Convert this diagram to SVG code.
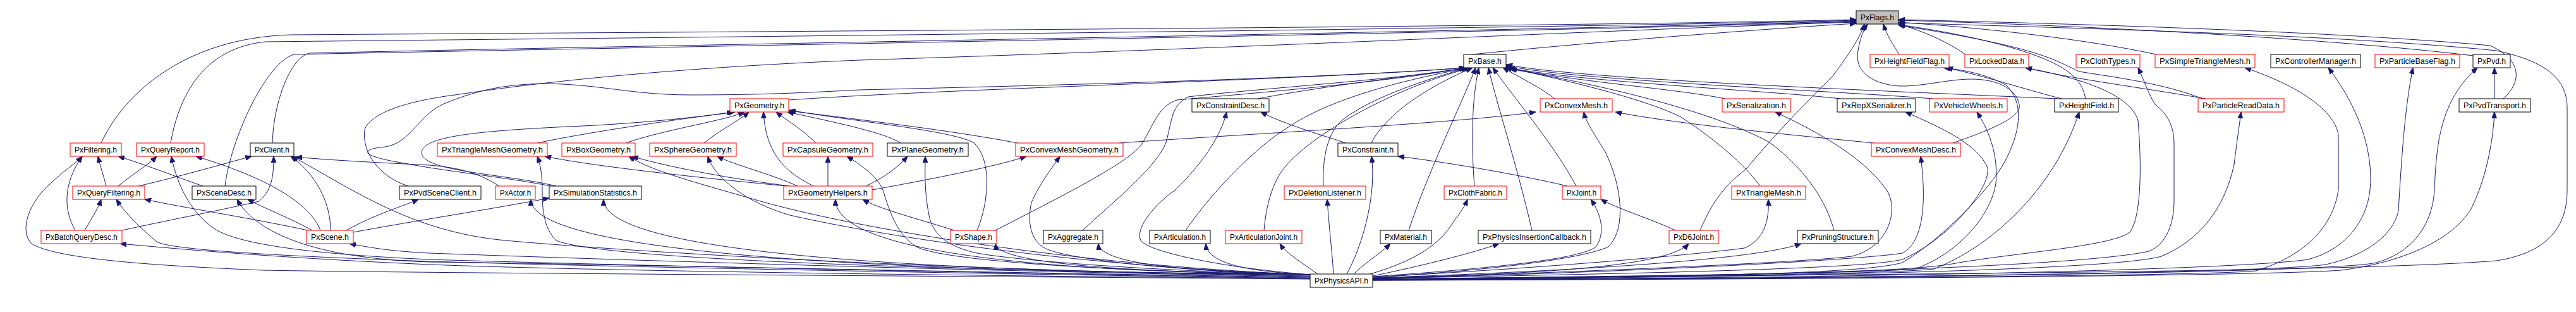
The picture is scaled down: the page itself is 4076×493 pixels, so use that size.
<svg xmlns="http://www.w3.org/2000/svg" width="4076" height="493" viewBox="0 0 4076 493">
<defs>
<style>
.e{fill:none;stroke:#191970;stroke-width:1;marker-end:url(#ah)}
.n rect{fill:#ffffff;stroke:#000000;stroke-width:1}
.r rect{stroke:#ff0000}
.g rect{fill:#bfbfbf}
.n text{font-family:"Liberation Sans",Arial,Helvetica,sans-serif;font-size:13.5px;fill:#000000;text-anchor:middle}
</style>
<marker id="ah" viewBox="0 0 10 8" refX="10" refY="4" markerWidth="10" markerHeight="8" markerUnits="userSpaceOnUse" orient="auto"><path d="M0,0 L10,4 L0,8 z" fill="#191970" stroke="#191970"/></marker>
</defs>
<rect x="0" y="0" width="4076" height="493" fill="#ffffff"/>
<g id="connectors">
<path class="e" d="M160,226 C195,150 290,60 460,55 C1200,50 2500,42 2937,31"/>
<path class="e" d="M270,226 C285,140 330,75 420,66 C1200,58 2500,44 2937,32"/>
<path class="e" d="M431,226 C433,160 460,90 490,84 C1000,72 2500,47 2937,33"/>
<path class="e" d="M356,294 C365,220 420,100 465,86 C1000,75 2500,49 2937,34"/>
<path class="e" d="M646,294 C600,280 572,240 577,205 C585,180 640,160 720,150 C800,138 1000,110 1360,95 C2000,75 2600,45 2937,35"/>
<path class="e" d="M2330,86 C2500,68 2800,45 2937,37"/>
<path class="e" d="M2172,442 C2800,433 3700,432 3950,412 C4040,398 4062,350 4062,300 L4062,170 C4062,120 4020,95 3950,80 C3700,55 3300,45 3004,36"/>
<path class="e" d="M3005,86 C2995,70 2985,55 2980,38"/>
<path class="e" d="M3110,86 C3080,65 3040,48 3004,38"/>
<path class="e" d="M3412,86 C3300,62 3150,45 3004,35"/>
<path class="e" d="M3913,88 C3700,62 3300,40 3004,32"/>
<path class="e" d="M3961,156 C3990,130 3992,95 3940,72 C3700,50 3300,38 3004,31"/>
<path class="e" d="M3300,156 C3295,130 3280,115 3250,100 C3200,75 3100,52 3004,39"/>
<path class="e" d="M3485,156 C3420,130 3330,120 3290,113 C3250,95 3230,75 3004,40"/>
<path class="e" d="M3090,226 C3150,205 3200,185 3195,165 C3190,140 3160,125 3119,125 C3080,125 3030,140 2995,135 C2950,128 2935,105 2940,80 C2943,60 2950,45 2955,38"/>
<path class="e" d="M2690,364 C2705,330 2720,300 2763,267 C2810,210 2870,150 2900,120 C2930,80 2945,55 2950,38"/>
<path class="e" d="M1248,158 C1500,140 2100,125 2318,107"/>
<path class="e" d="M1990,156 C2100,135 2250,118 2322,107"/>
<path class="e" d="M1575,364 C1680,310 1780,260 1805,230 C1825,200 1830,170 1862,158 C1950,150 2200,130 2319,107"/>
<path class="e" d="M1713,364 C1760,320 1830,265 1845,225 C1855,190 1852,168 1880,153 C1990,140 2220,125 2320,107"/>
<path class="e" d="M1876,364 C1920,300 1990,230 2040,200 C2100,160 2200,130 2325,107"/>
<path class="e" d="M2000,364 C2003,330 2010,300 2025,275 C2060,220 2200,140 2328,107"/>
<path class="e" d="M2094,294 C2092,250 2100,205 2130,185 C2180,150 2260,125 2322,107"/>
<path class="e" d="M2170,226 C2185,195 2230,150 2330,107"/>
<path class="e" d="M2229,364 C2260,270 2310,170 2335,107"/>
<path class="e" d="M2333,294 C2328,230 2328,160 2340,107"/>
<path class="e" d="M2424,364 C2400,260 2370,170 2355,107"/>
<path class="e" d="M2494,294 C2460,230 2400,160 2362,107"/>
<path class="e" d="M2460,156 C2440,140 2410,125 2378,107"/>
<path class="e" d="M2730,156 C2650,140 2500,130 2382,107"/>
<path class="e" d="M2912,156 C2800,143 2500,130 2381,106"/>
<path class="e" d="M3058,156 C2900,143 2500,128 2383,104"/>
<path class="e" d="M3255,156 C3000,144 2500,126 2383,102"/>
<path class="e" d="M2785,294 C2760,260 2720,225 2660,185 C2600,155 2470,125 2386,107"/>
<path class="e" d="M2902,364 C2890,320 2860,270 2800,225 C2700,170 2500,128 2390,109"/>
<path class="e" d="M872,294 C800,280 700,270 640,258 C560,245 575,235 610,232 C650,225 660,185 700,165 C760,140 800,134 860,132 C950,133 1000,150 1092,150 C1180,150 1250,148 1360,142 C1800,132 2150,120 2318,107"/>
<path class="e" d="M850,226 C950,205 1100,185 1163,177"/>
<path class="e" d="M990,226 C1050,205 1150,190 1178,177"/>
<path class="e" d="M1114,226 C1140,205 1170,190 1185,177"/>
<path class="e" d="M1287,294 C1250,275 1212,250 1208,177"/>
<path class="e" d="M1291,226 C1270,205 1245,190 1228,177"/>
<path class="e" d="M1425,226 C1400,210 1330,195 1246,177"/>
<path class="e" d="M1610,226 C1500,205 1350,188 1248,175"/>
<path class="e" d="M1546,364 C1565,320 1570,250 1540,225 C1500,205 1350,192 1249,174"/>
<path class="e" d="M880,294 C800,275 680,272 668,245 C658,215 760,207 900,200 C1000,196 1100,186 1160,177"/>
<path class="e" d="M1245,294 C1150,285 950,265 862,247"/>
<path class="e" d="M1250,294 C1150,282 1050,262 1000,247"/>
<path class="e" d="M1262,294 C1220,275 1160,260 1135,247"/>
<path class="e" d="M1310,294 L1310,247"/>
<path class="e" d="M1370,294 C1400,280 1420,265 1436,247"/>
<path class="e" d="M1380,300 C1480,282 1580,262 1624,247"/>
<path class="e" d="M119,364 C100,330 100,290 130,247"/>
<path class="e" d="M134,364 C145,345 155,330 160,315"/>
<path class="e" d="M193,364 C280,345 360,330 410,318 C430,300 433,280 433,247"/>
<path class="e" d="M168,294 C163,275 158,260 155,247"/>
<path class="e" d="M187,294 C210,275 235,260 248,247"/>
<path class="e" d="M219,294 C280,280 350,260 398,247"/>
<path class="e" d="M321,294 C280,280 230,260 187,247"/>
<path class="e" d="M487,364 C400,345 300,330 229,315"/>
<path class="e" d="M507,364 C490,320 420,280 310,247"/>
<path class="e" d="M494,364 C460,345 420,330 392,315"/>
<path class="e" d="M523,364 C523,320 500,275 460,247"/>
<path class="e" d="M548,364 C590,340 640,325 662,315"/>
<path class="e" d="M559,367 C650,350 780,330 869,313"/>
<path class="e" d="M790,294 C760,275 730,265 680,261 C600,257 520,253 468,248"/>
<path class="e" d="M2073,441 C1500,436 700,432 416,427 C250,420 90,410 50,385 C30,365 45,320 80,290 C100,270 118,260 130,247"/>
<path class="e" d="M2073,440 C1500,432 900,420 680,413 C450,405 270,395 248,382 C228,365 200,340 184,315"/>
<path class="e" d="M2073,439 C1500,431 900,417 680,410 C500,402 380,387 340,362 C300,335 280,290 271,247"/>
<path class="e" d="M2073,438 C1500,430 900,416 680,414 C480,408 400,360 375,315"/>
<path class="e" d="M2073,437 C1500,428 900,408 680,400 C620,397 590,392 553,385"/>
<path class="e" d="M2073,440 C1500,436 900,427 680,418 C450,408 300,395 190,385"/>
<path class="e" d="M2073,436 C1500,428 1000,398 800,380 C650,366 560,300 462,247"/>
<path class="e" d="M2075,434 C1500,428 950,410 880,380 C860,360 858,330 858,300 C858,275 855,260 850,247"/>
<path class="e" d="M2075,434 C1700,420 1350,360 1200,317 C1100,288 1030,270 995,247"/>
<path class="e" d="M2075,434 C1700,422 1380,370 1250,340 C1180,320 1130,280 1120,247"/>
<path class="e" d="M2075,434 C1800,430 1500,415 1450,390 C1420,370 1410,340 1400,310 C1395,285 1370,265 1340,247"/>
<path class="e" d="M2075,434 C1800,428 1600,410 1546,400 C1500,390 1475,370 1470,340 C1462,300 1464,270 1464,247"/>
<path class="e" d="M2075,434 C1850,428 1700,410 1660,395 C1630,385 1625,350 1632,320 C1645,290 1665,265 1677,247"/>
<path class="e" d="M2075,434 C1395,430 840,401 840,315"/>
<path class="e" d="M2075,434 C1459,430 955,401 955,315"/>
<path class="e" d="M2075,434 C1661,430 1322,401 1322,315"/>
<path class="e" d="M2075,434 C1805,430 1580,419 1575,385"/>
<path class="e" d="M2075,434 C1898,430 1740,419 1738,385"/>
<path class="e" d="M2075,434 C1986,430 1910,419 1908,385"/>
<path class="e" d="M2085,433 C2060,415 2035,400 2025,385"/>
<path class="e" d="M2075,434 C1950,425 1820,400 1805,380 C1795,360 1830,320 1860,300 C1900,260 1930,220 1941,177"/>
<path class="e" d="M2131,433 C2160,380 2178,300 2170,247"/>
<path class="e" d="M2110,433 C2108,400 2103,360 2100,315"/>
<path class="e" d="M2142,433 C2160,415 2185,400 2200,385"/>
<path class="e" d="M2168,433 C2240,412 2280,385 2300,350 C2312,335 2318,325 2322,315"/>
<path class="e" d="M2172,436 C2250,420 2330,400 2372,385"/>
<path class="e" d="M2172,437 C2350,425 2500,410 2525,390 C2540,370 2535,340 2517,315"/>
<path class="e" d="M2172,438 C2350,428 2500,410 2545,390 C2575,360 2565,290 2540,240 C2525,215 2510,195 2506,177"/>
<path class="e" d="M2172,439 C2450,433 2640,420 2672,385"/>
<path class="e" d="M2172,439 C2500,428 2780,410 2850,385"/>
<path class="e" d="M2172,438 C2500,420 2700,400 2760,392 C2790,380 2800,350 2798,315"/>
<path class="e" d="M2172,440 C2500,430 2850,415 2930,405 C2990,390 3005,330 2985,300 C2950,250 2880,210 2809,177"/>
<path class="e" d="M2172,440 C2600,432 2950,425 3010,410 C3080,380 3150,300 3145,265 C3130,230 3080,205 3015,177"/>
<path class="e" d="M2172,441 C2600,436 2950,432 3030,425 C3100,400 3150,340 3158,290 C3162,250 3150,210 3128,177"/>
<path class="e" d="M2172,441 C2600,437 2980,434 3060,425 C3150,390 3250,300 3290,177"/>
<path class="e" d="M2172,440 C2600,430 2950,410 3010,400 C3040,385 3050,330 3039,247"/>
<path class="e" d="M2172,441 C2700,436 3000,432 3089,417 C3180,400 3340,390 3370,367 C3390,340 3388,250 3383,190 C3370,150 3300,125 3205,107"/>
<path class="e" d="M2172,441 C2700,438 2950,432 3010,415 C3070,380 3150,300 3175,250 C3200,200 3200,160 3175,135 C3140,115 3100,110 3075,107"/>
<path class="e" d="M2172,442 C2800,438 3300,420 3400,397 C3430,385 3440,350 3440,317 L3440,227 C3440,200 3430,180 3410,165 C3400,150 3392,125 3383,107"/>
<path class="e" d="M2172,442 C3000,440 3500,435 3569,428 C3630,410 3690,370 3700,300 L3700,213 C3695,180 3650,140 3552,107"/>
<path class="e" d="M2172,442 C3000,440 3550,425 3652,410 C3710,395 3745,350 3750,300 C3755,250 3740,180 3684,107"/>
<path class="e" d="M2172,442 C3000,440 3600,430 3680,418 C3760,400 3790,360 3795,333 C3800,250 3805,170 3818,107"/>
<path class="e" d="M2172,443 C3000,440 3700,430 3760,415 C3830,395 3850,340 3852,300 C3855,230 3860,160 3920,107"/>
<path class="e" d="M2172,442 C2900,438 3350,425 3420,405 C3480,380 3520,330 3535,260 C3540,220 3543,200 3546,177"/>
<path class="e" d="M2172,443 C3000,441 3600,435 3704,427 C3800,415 3880,380 3910,330 C3935,280 3945,220 3947,177"/>
<path class="e" d="M3262,156 C3200,140 3140,120 3080,107"/>
<path class="e" d="M3490,156 C3400,140 3280,125 3205,107"/>
<path class="e" d="M3947,156 L3947,107"/>
<path class="e" d="M2130,226 C2080,210 2030,195 1995,177"/>
<path class="e" d="M2480,294 C2400,275 2280,255 2212,247"/>
<path class="e" d="M2651,364 C2610,345 2560,330 2533,315"/>
<path class="e" d="M1770,226 C2000,210 2300,195 2430,177"/>
<path class="e" d="M2965,226 C2800,210 2650,195 2556,177"/>
<path class="e" d="M1510,364 C1450,345 1390,330 1365,315"/>
</g>
<g id="n-PxFlags" class="n g"><rect x="2937" y="17" width="67" height="21"/><text x="2970.5" y="32" textLength="53" lengthAdjust="spacingAndGlyphs">PxFlags.h</text></g>
<g id="n-PxBase" class="n"><rect x="2316" y="86" width="67" height="21"/><text x="2349.5" y="101" textLength="53" lengthAdjust="spacingAndGlyphs">PxBase.h</text></g>
<g id="n-PxHeightFieldFlag" class="n r"><rect x="2959" y="86" width="125" height="21"/><text x="3021.5" y="101" textLength="111" lengthAdjust="spacingAndGlyphs">PxHeightFieldFlag.h</text></g>
<g id="n-PxLockedData" class="n r"><rect x="3109" y="86" width="101" height="21"/><text x="3159.5" y="101" textLength="87" lengthAdjust="spacingAndGlyphs">PxLockedData.h</text></g>
<g id="n-PxClothTypes" class="n r"><rect x="3285" y="86" width="101" height="21"/><text x="3335.5" y="101" textLength="87" lengthAdjust="spacingAndGlyphs">PxClothTypes.h</text></g>
<g id="n-PxSimpleTriangleMesh" class="n r"><rect x="3410" y="86" width="158" height="21"/><text x="3489" y="101" textLength="144" lengthAdjust="spacingAndGlyphs">PxSimpleTriangleMesh.h</text></g>
<g id="n-PxControllerManager" class="n"><rect x="3593" y="86" width="142" height="21"/><text x="3664" y="101" textLength="128" lengthAdjust="spacingAndGlyphs">PxControllerManager.h</text></g>
<g id="n-PxParticleBaseFlag" class="n r"><rect x="3758" y="86" width="134" height="21"/><text x="3825" y="101" textLength="120" lengthAdjust="spacingAndGlyphs">PxParticleBaseFlag.h</text></g>
<g id="n-PxPvd" class="n"><rect x="3913" y="86" width="59" height="21"/><text x="3942.5" y="101" textLength="45" lengthAdjust="spacingAndGlyphs">PxPvd.h</text></g>
<g id="n-PxGeometry" class="n r"><rect x="1155" y="156" width="93" height="21"/><text x="1201.5" y="171" textLength="79" lengthAdjust="spacingAndGlyphs">PxGeometry.h</text></g>
<g id="n-PxConstraintDesc" class="n"><rect x="1886" y="156" width="122" height="21"/><text x="1947" y="171" textLength="108" lengthAdjust="spacingAndGlyphs">PxConstraintDesc.h</text></g>
<g id="n-PxConvexMesh" class="n r"><rect x="2437" y="156" width="114" height="21"/><text x="2494" y="171" textLength="100" lengthAdjust="spacingAndGlyphs">PxConvexMesh.h</text></g>
<g id="n-PxSerialization" class="n r"><rect x="2725" y="156" width="108" height="21"/><text x="2779" y="171" textLength="94" lengthAdjust="spacingAndGlyphs">PxSerialization.h</text></g>
<g id="n-PxRepXSerializer" class="n"><rect x="2907" y="156" width="124" height="21"/><text x="2969" y="171" textLength="110" lengthAdjust="spacingAndGlyphs">PxRepXSerializer.h</text></g>
<g id="n-PxVehicleWheels" class="n r"><rect x="3053" y="156" width="123" height="21"/><text x="3114.5" y="171" textLength="109" lengthAdjust="spacingAndGlyphs">PxVehicleWheels.h</text></g>
<g id="n-PxHeightField" class="n"><rect x="3251" y="156" width="101" height="21"/><text x="3301.5" y="171" textLength="87" lengthAdjust="spacingAndGlyphs">PxHeightField.h</text></g>
<g id="n-PxParticleReadData" class="n r"><rect x="3478" y="156" width="136" height="21"/><text x="3546" y="171" textLength="122" lengthAdjust="spacingAndGlyphs">PxParticleReadData.h</text></g>
<g id="n-PxPvdTransport" class="n"><rect x="3891" y="156" width="113" height="21"/><text x="3947.5" y="171" textLength="99" lengthAdjust="spacingAndGlyphs">PxPvdTransport.h</text></g>
<g id="n-PxFiltering" class="n r"><rect x="111" y="226" width="81" height="21"/><text x="151.5" y="241" textLength="67" lengthAdjust="spacingAndGlyphs">PxFiltering.h</text></g>
<g id="n-PxQueryReport" class="n r"><rect x="216" y="226" width="107" height="21"/><text x="269.5" y="241" textLength="93" lengthAdjust="spacingAndGlyphs">PxQueryReport.h</text></g>
<g id="n-PxClient" class="n"><rect x="396" y="226" width="69" height="21"/><text x="430.5" y="241" textLength="55" lengthAdjust="spacingAndGlyphs">PxClient.h</text></g>
<g id="n-PxTriangleMeshGeometry" class="n r"><rect x="692" y="226" width="174" height="21"/><text x="779" y="241" textLength="160" lengthAdjust="spacingAndGlyphs">PxTriangleMeshGeometry.h</text></g>
<g id="n-PxBoxGeometry" class="n r"><rect x="889" y="226" width="116" height="21"/><text x="947" y="241" textLength="102" lengthAdjust="spacingAndGlyphs">PxBoxGeometry.h</text></g>
<g id="n-PxSphereGeometry" class="n r"><rect x="1028" y="226" width="137" height="21"/><text x="1096.5" y="241" textLength="123" lengthAdjust="spacingAndGlyphs">PxSphereGeometry.h</text></g>
<g id="n-PxCapsuleGeometry" class="n r"><rect x="1239" y="226" width="142" height="21"/><text x="1310" y="241" textLength="128" lengthAdjust="spacingAndGlyphs">PxCapsuleGeometry.h</text></g>
<g id="n-PxPlaneGeometry" class="n"><rect x="1404" y="226" width="128" height="21"/><text x="1468" y="241" textLength="114" lengthAdjust="spacingAndGlyphs">PxPlaneGeometry.h</text></g>
<g id="n-PxConvexMeshGeometry" class="n r"><rect x="1607" y="226" width="170" height="21"/><text x="1692" y="241" textLength="156" lengthAdjust="spacingAndGlyphs">PxConvexMeshGeometry.h</text></g>
<g id="n-PxConstraint" class="n"><rect x="2117" y="226" width="95" height="21"/><text x="2164.5" y="241" textLength="81" lengthAdjust="spacingAndGlyphs">PxConstraint.h</text></g>
<g id="n-PxConvexMeshDesc" class="n r"><rect x="2961" y="226" width="141" height="21"/><text x="3031.5" y="241" textLength="127" lengthAdjust="spacingAndGlyphs">PxConvexMeshDesc.h</text></g>
<g id="n-PxQueryFiltering" class="n r"><rect x="115" y="294" width="114" height="21"/><text x="172" y="309" textLength="100" lengthAdjust="spacingAndGlyphs">PxQueryFiltering.h</text></g>
<g id="n-PxSceneDesc" class="n"><rect x="304" y="294" width="101" height="21"/><text x="354.5" y="309" textLength="87" lengthAdjust="spacingAndGlyphs">PxSceneDesc.h</text></g>
<g id="n-PxPvdSceneClient" class="n"><rect x="632" y="294" width="129" height="21"/><text x="696.5" y="309" textLength="115" lengthAdjust="spacingAndGlyphs">PxPvdSceneClient.h</text></g>
<g id="n-PxActor" class="n r"><rect x="784" y="294" width="63" height="21"/><text x="815.5" y="309" textLength="49" lengthAdjust="spacingAndGlyphs">PxActor.h</text></g>
<g id="n-PxSimulationStatistics" class="n"><rect x="869" y="294" width="146" height="21"/><text x="942" y="309" textLength="132" lengthAdjust="spacingAndGlyphs">PxSimulationStatistics.h</text></g>
<g id="n-PxGeometryHelpers" class="n r"><rect x="1240" y="294" width="140" height="21"/><text x="1310" y="309" textLength="126" lengthAdjust="spacingAndGlyphs">PxGeometryHelpers.h</text></g>
<g id="n-PxDeletionListener" class="n r"><rect x="2032" y="294" width="129" height="21"/><text x="2096.5" y="309" textLength="115" lengthAdjust="spacingAndGlyphs">PxDeletionListener.h</text></g>
<g id="n-PxClothFabric" class="n r"><rect x="2285" y="294" width="99" height="21"/><text x="2334.5" y="309" textLength="85" lengthAdjust="spacingAndGlyphs">PxClothFabric.h</text></g>
<g id="n-PxJoint" class="n r"><rect x="2472" y="294" width="61" height="21"/><text x="2502.5" y="309" textLength="47" lengthAdjust="spacingAndGlyphs">PxJoint.h</text></g>
<g id="n-PxTriangleMesh" class="n r"><rect x="2740" y="294" width="117" height="21"/><text x="2798.5" y="309" textLength="103" lengthAdjust="spacingAndGlyphs">PxTriangleMesh.h</text></g>
<g id="n-PxBatchQueryDesc" class="n r"><rect x="65" y="364" width="128" height="21"/><text x="129" y="379" textLength="114" lengthAdjust="spacingAndGlyphs">PxBatchQueryDesc.h</text></g>
<g id="n-PxScene" class="n r"><rect x="485" y="364" width="74" height="21"/><text x="522" y="379" textLength="60" lengthAdjust="spacingAndGlyphs">PxScene.h</text></g>
<g id="n-PxShape" class="n r"><rect x="1504" y="364" width="73" height="21"/><text x="1540.5" y="379" textLength="59" lengthAdjust="spacingAndGlyphs">PxShape.h</text></g>
<g id="n-PxAggregate" class="n"><rect x="1651" y="364" width="94" height="21"/><text x="1698" y="379" textLength="80" lengthAdjust="spacingAndGlyphs">PxAggregate.h</text></g>
<g id="n-PxArticulation" class="n"><rect x="1819" y="364" width="96" height="21"/><text x="1867" y="379" textLength="82" lengthAdjust="spacingAndGlyphs">PxArticulation.h</text></g>
<g id="n-PxArticulationJoint" class="n r"><rect x="1939" y="364" width="121" height="21"/><text x="1999.5" y="379" textLength="107" lengthAdjust="spacingAndGlyphs">PxArticulationJoint.h</text></g>
<g id="n-PxMaterial" class="n"><rect x="2184" y="364" width="81" height="21"/><text x="2224.5" y="379" textLength="67" lengthAdjust="spacingAndGlyphs">PxMaterial.h</text></g>
<g id="n-PxPhysicsInsertionCallback" class="n"><rect x="2339" y="364" width="178" height="21"/><text x="2428" y="379" textLength="164" lengthAdjust="spacingAndGlyphs">PxPhysicsInsertionCallback.h</text></g>
<g id="n-PxD6Joint" class="n r"><rect x="2641" y="364" width="78" height="21"/><text x="2680" y="379" textLength="64" lengthAdjust="spacingAndGlyphs">PxD6Joint.h</text></g>
<g id="n-PxPruningStructure" class="n"><rect x="2844" y="364" width="128" height="21"/><text x="2908" y="379" textLength="114" lengthAdjust="spacingAndGlyphs">PxPruningStructure.h</text></g>
<g id="n-PxPhysicsAPI" class="n"><rect x="2073" y="433" width="99" height="21"/><text x="2122.5" y="448" textLength="85" lengthAdjust="spacingAndGlyphs">PxPhysicsAPI.h</text></g>
</svg>
